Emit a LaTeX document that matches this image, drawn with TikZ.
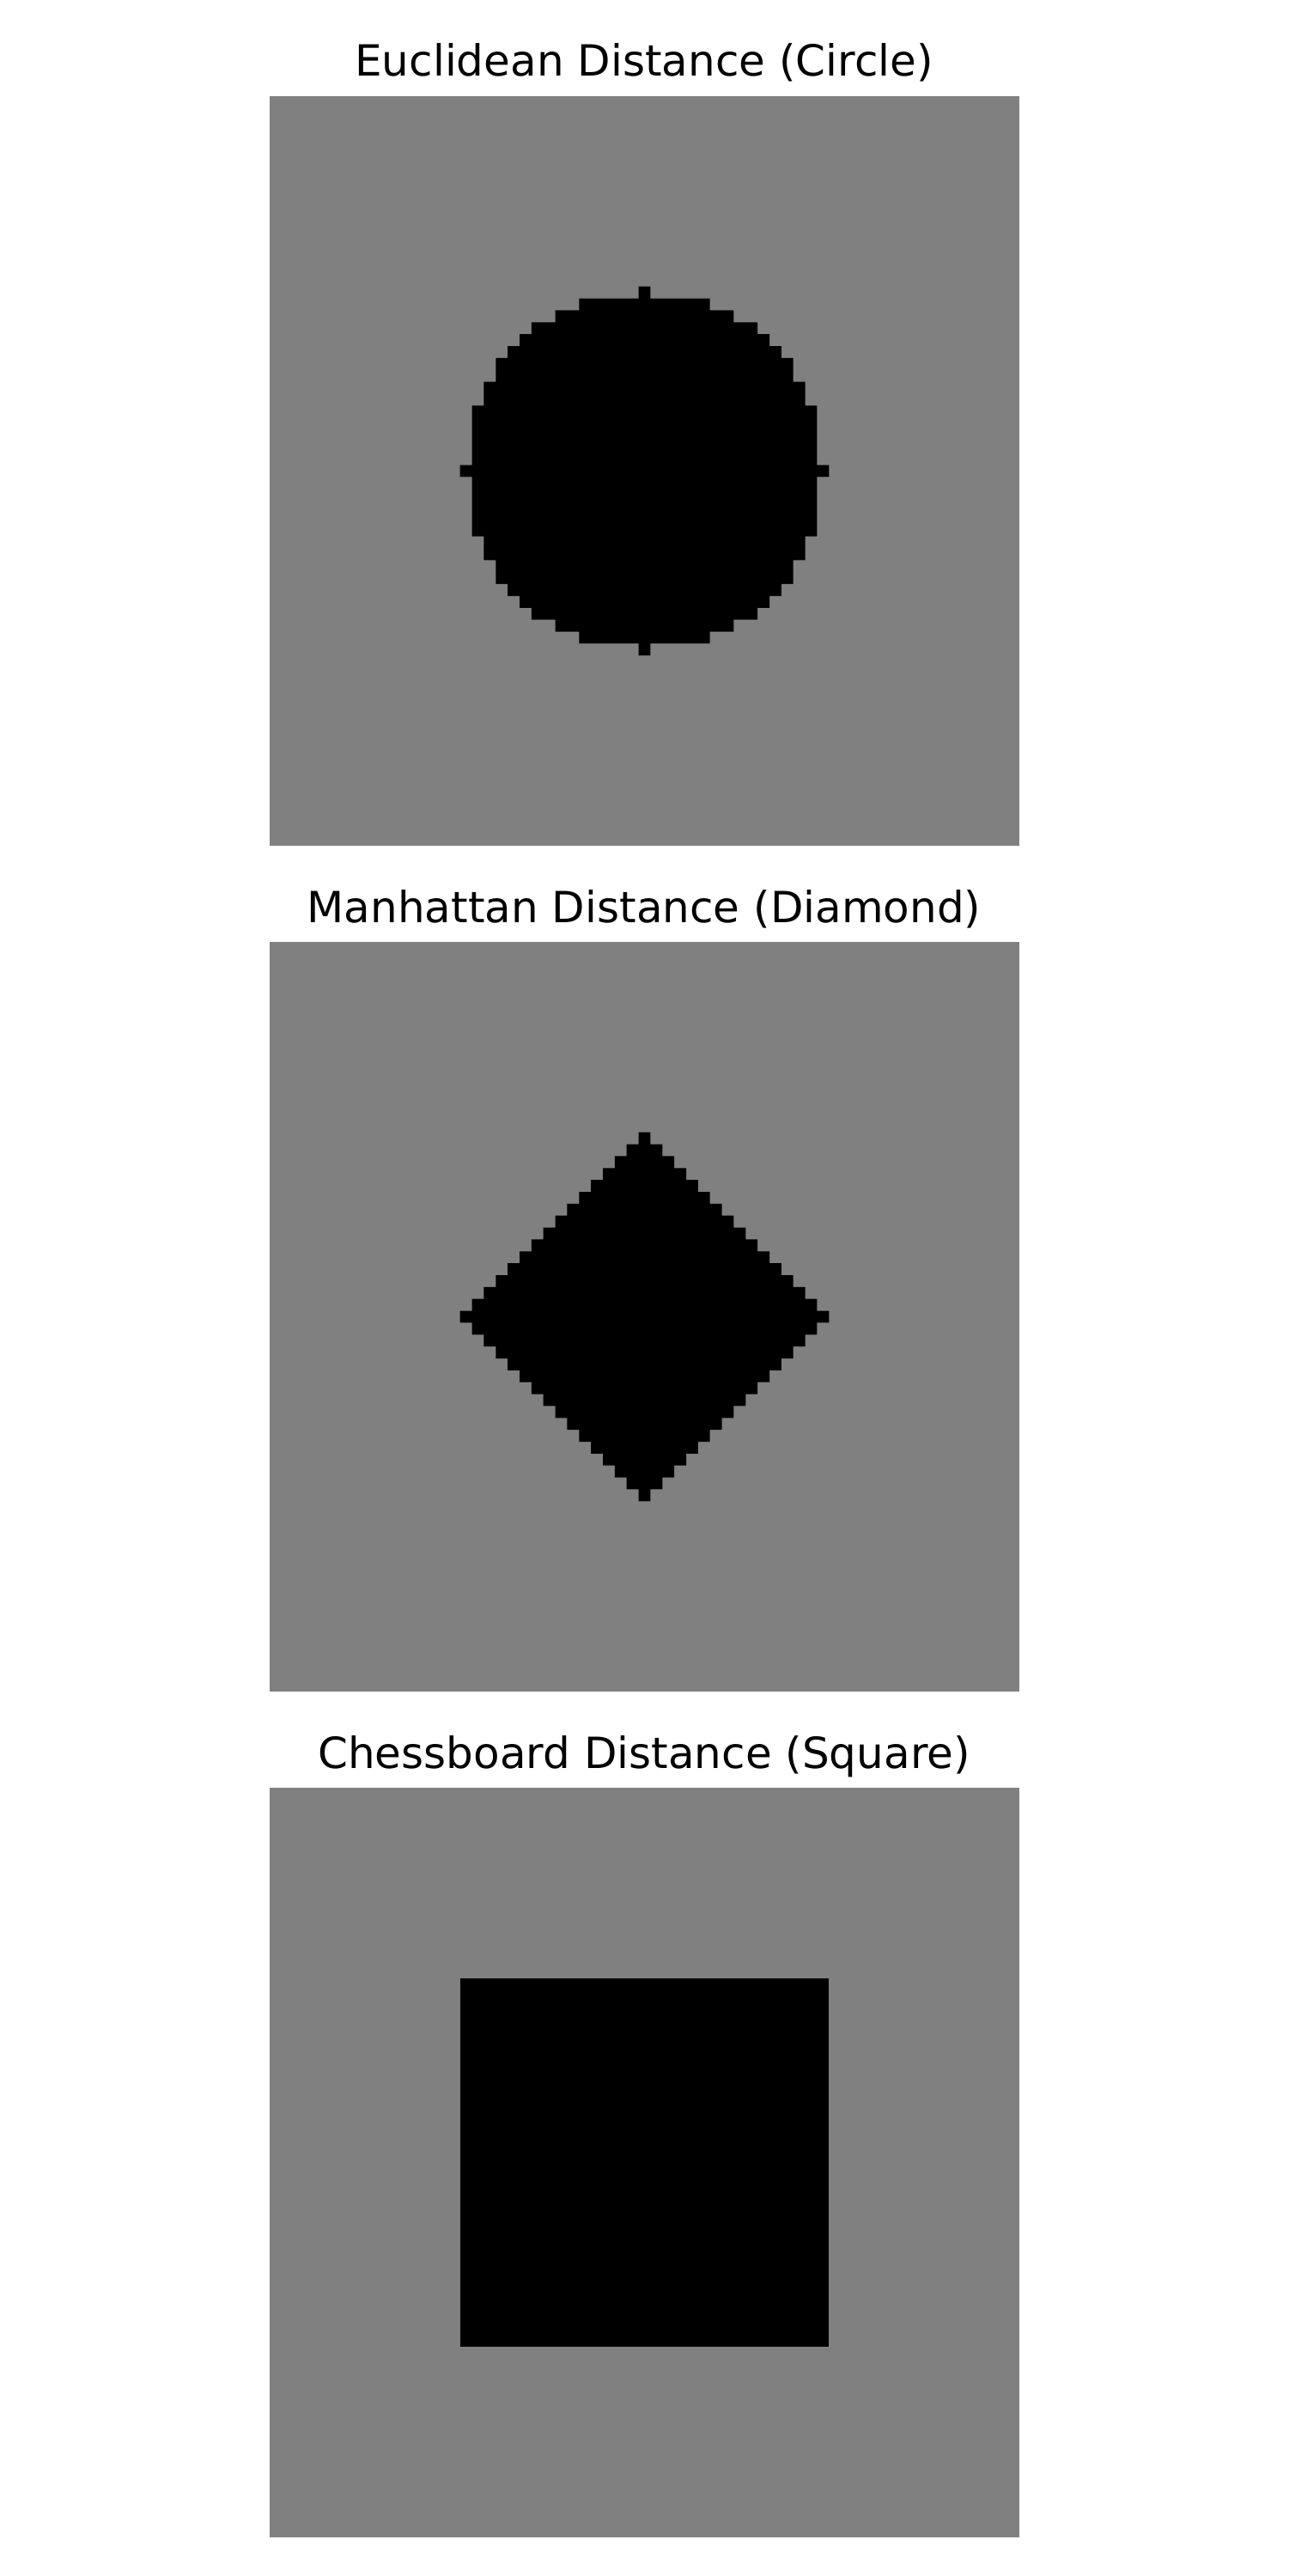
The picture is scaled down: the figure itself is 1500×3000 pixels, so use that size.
\documentclass[tikz,border=0pt]{standalone}
\usepackage{fontspec}
\setmainfont{DejaVu Sans}
\definecolor{imggray}{RGB}{128,128,128}
\tikzset{
  paneltitle/.style={anchor=base, inner sep=0pt, font=\fontsize{50}{60}\selectfont},
  panel/.style={fill=imggray},
  blob/.style={fill=black}
}
\begin{document}
\begin{tikzpicture}[x=1pt,y=-1pt]
\useasboundingbox (0,0) rectangle (1500,3000);
\def\p{13.857}
% ---------- Panel 1: Euclidean ----------
\def\T{112}
\fill[panel] (314,\T) rectangle ++(873,873);
\node[paneltitle] (t1) at (750,\T-23) {Euclidean Distance (Circle)};
\fill[blob] \foreach \dy/\w in {-15/0,-14/5,-13/7,-12/9,-11/10,-10/11,-9/12,-8/12,-7/13,-6/13,-5/14,-4/14,-3/14,-2/14,-1/14,0/15,1/14,2/14,3/14,4/14,5/14,6/13,7/13,8/12,9/12,10/11,11/10,12/9,13/7,14/5,15/0}
  { ({314+(31-\w)*\p},{\T+(31+\dy)*\p}) rectangle ({314+(32+\w)*\p},{\T+(32+\dy)*\p}) };
% ---------- Panel 2: Manhattan ----------
\def\T{1097}
\fill[panel] (314,\T) rectangle ++(873,873);
\node[paneltitle] (t2) at (750,\T-23) {Manhattan Distance (Diamond)};
\fill[blob] \foreach \dy [evaluate=\dy as \w using {15-abs(\dy)}] in {-15,...,15}
  { ({314+(31-\w)*\p},{\T+(31+\dy)*\p}) rectangle ({314+(32+\w)*\p},{\T+(32+\dy)*\p}) };
% ---------- Panel 3: Chessboard ----------
\def\T{2082}
\fill[panel] (314,\T) rectangle ++(873,873);
\node[paneltitle] (t3) at (750,\T-23) {Chessboard Distance (Square)};
\fill[blob] ({314+16*\p},{\T+16*\p}) rectangle ({314+47*\p},{\T+47*\p});
\end{tikzpicture}
\end{document}
